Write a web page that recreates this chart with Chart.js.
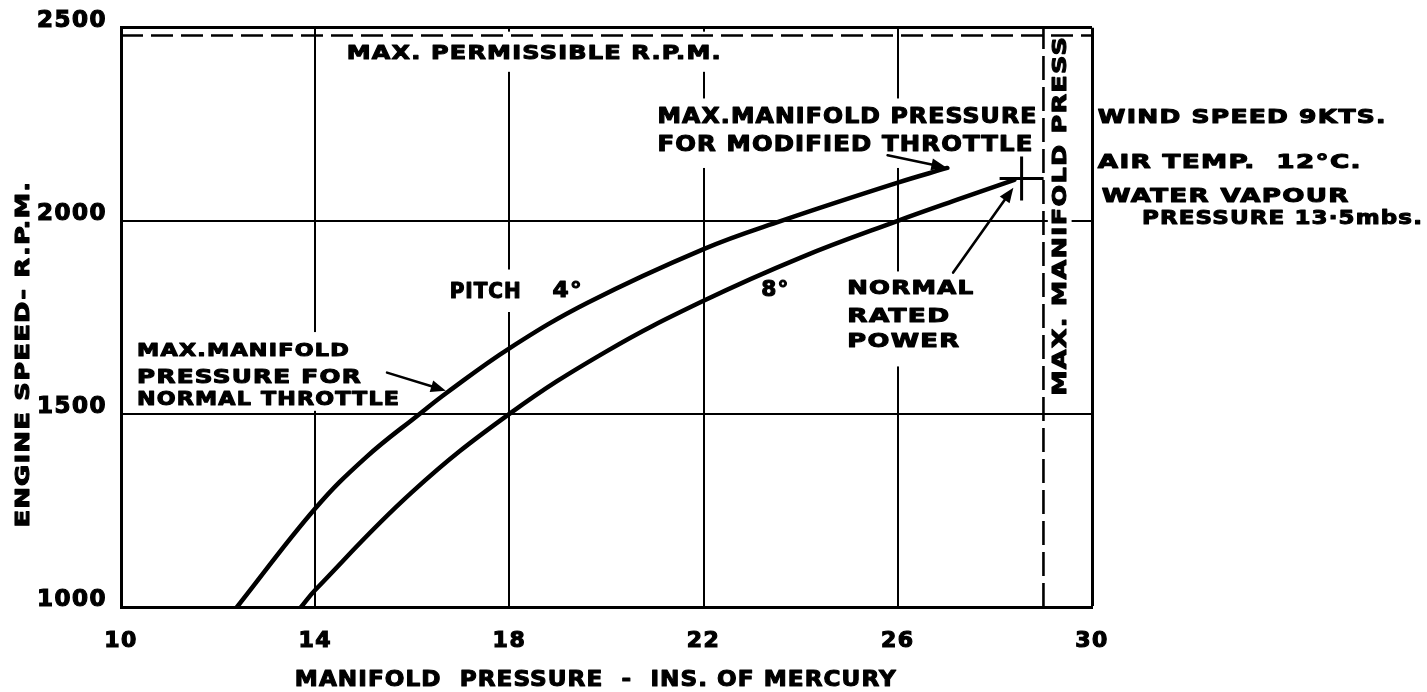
<!DOCTYPE html>
<html><head><meta charset="utf-8">
<script src="https://cdn.jsdelivr.net/npm/chart.js@4.4.1/dist/chart.umd.min.js"></script>
<style>html,body{margin:0;padding:0;background:#fff;}#wrap{width:1427px;height:692px;position:relative;}</style>
</head><body><div id="wrap"><canvas id="c"></canvas></div>
<script>
// ---- data ----
const xTicks = [10, 14, 18, 22, 26, 30];
const yTicks = [1000, 1500, 2000, 2500];
const pitch4Pressure = [12.39, 14, 15.04, 16.15, 16.71, 18, 19.61, 22, 23.6, 26, 27.02];
const pitch4Rpm      = [1000, 1255, 1387, 1500, 1555, 1670, 1788, 1927, 2000, 2099, 2137];
const pitch8Pressure = [13.71, 14, 16, 18, 20, 22, 24, 26, 27.3, 28.4];
const pitch8Rpm      = [1000, 1044, 1298, 1500, 1662, 1793, 1905, 2000, 2058, 2106];
const maxRpmPressure = [10, 30];
const maxRpm         = [2480, 2480];
const maxPressure    = [29, 29];
const maxPressureRpm = [1000, 2500];
const ratedPowerPressure = [28.55];
const ratedPowerRpm      = [2110];

// ---- layout / annotation definitions ----
const FONT = "'DejaVu Sans', 'Liberation Sans', sans-serif";
const INK = '#000';
const zip = (xs, ys) => xs.map((v, i) => ({x: v, y: ys[i]}));

// [text, x(left, data), y(centre, data), font size, target width px]
const notes = [
  ['MAX. PERMISSIBLE R.P.M.', 14.65, 2437, 20, 375],
  ['MAX.MANIFOLD PRESSURE', 21.05, 2272, 21, 380],
  ['FOR MODIFIED THROTTLE', 21.05, 2200, 21, 376],
  ['PITCH', 16.77, 1819, 21, 72],
  ['4°', 18.89, 1822, 21, 30],
  ['8°', 23.19, 1825, 21, 28],
  ['NORMAL', 24.96, 1830, 20, 127],
  ['RATED', 24.96, 1757, 20, 103],
  ['POWER', 24.96, 1691, 20, 113],
  ['MAX.MANIFOLD', 10.33, 1668, 18, 213],
  ['PRESSURE FOR', 10.33, 1599, 19, 225],
  ['NORMAL THROTTLE', 10.33, 1542, 19, 263],
  ['WIND SPEED 9KTS.', 30.12, 2272, 20, 289],
  ['AIR TEMP.  12°C.', 30.12, 2157, 20, 264],
  ['WATER VAPOUR', 30.2, 2069, 20, 248],
  ['PRESSURE 13·5mbs.', 31.03, 2010, 20, 281],
  ['MANIFOLD  PRESSURE  -  INS. OF MERCURY', 13.58, 817, 22, 602]
];
// rotated texts: [text, x centre, y centre, size, target length]
const vnotes = [
  ['MAX. MANIFOLD PRESS', 29.31, 2013, 20, 360],
  ['ENGINE SPEED- R.P.M.', 7.96, 1655, 20, 347]
];
// white boxes that break the grid behind labels: [x1, x2, y1, y2]
const boxes = [
  [14.48, 22.56, 2490, 2386],
  [20.91, 28.94, 2317, 2137],
  [16.67, 18.37, 1874, 1764],
  [24.85, 27.62, 1869, 1623],
  [10.18, 15.83, 1712, 1508],
  [29.09, 29.58, 2487, 1529]
];
// arrows: [x1, y1, x2, y2] (tip at x2,y2)
const arrows = [
  [15.48, 1607, 16.69, 1560],
  [25.79, 2170, 27.0, 2138],
  [27.14, 1866, 28.38, 2086]
];

function setLS(ctx, v) { try { ctx.letterSpacing = v + 'px'; } catch (e) {} }

// draw bold text stretched horizontally to a target width (hand lettering is wide)
function drawFitted(ctx, text, size, target, x, y, align) {
  ctx.font = 'bold ' + size + 'px ' + FONT;
  setLS(ctx, 1);
  const w = ctx.measureText(text).width;
  const sx = target / w;
  ctx.save();
  ctx.translate(x, y);
  ctx.scale(sx, 1);
  ctx.textAlign = align || 'left';
  ctx.lineWidth = 1.1;
  ctx.lineJoin = 'round';
  ctx.fillText(text, 0, 0);
  ctx.strokeText(text, 0, 0);
  ctx.restore();
}

function drawArrow(ctx, x1, y1, x2, y2) {
  const head = 15, hw = 6;
  const a = Math.atan2(y2 - y1, x2 - x1);
  ctx.beginPath();
  ctx.moveTo(x1, y1);
  ctx.lineTo(x2 - head * 0.6 * Math.cos(a), y2 - head * 0.6 * Math.sin(a));
  ctx.stroke();
  ctx.beginPath();
  ctx.moveTo(x2, y2);
  ctx.lineTo(x2 - head * Math.cos(a) + hw * Math.sin(a), y2 - head * Math.sin(a) - hw * Math.cos(a));
  ctx.lineTo(x2 - head * Math.cos(a) - hw * Math.sin(a), y2 - head * Math.sin(a) + hw * Math.cos(a));
  ctx.closePath();
  ctx.fill();
}

const annot = {
  id: 'annot',
  beforeDraw(chart) {
    const c = chart.ctx;
    c.save(); c.fillStyle = '#fff'; c.fillRect(0, 0, chart.width, chart.height); c.restore();
    setLS(c, 1.5);
  },
  beforeDatasetsDraw(chart) {
    const {ctx, scales: {x, y}} = chart;
    ctx.save();
    ctx.fillStyle = '#fff';
    boxes.forEach(b => {
      const x1 = x.getPixelForValue(b[0]), x2 = x.getPixelForValue(b[1]);
      const y1 = y.getPixelForValue(b[2]), y2 = y.getPixelForValue(b[3]);
      ctx.fillRect(Math.min(x1, x2), Math.min(y1, y2), Math.abs(x2 - x1), Math.abs(y2 - y1));
    });
    ctx.restore();
  },
  afterDatasetsDraw(chart) {
    const {ctx, scales: {x, y}} = chart;
    ctx.save();
    ctx.fillStyle = INK; ctx.strokeStyle = INK;
    ctx.textBaseline = 'alphabetic';
    notes.forEach(n => {
      const px = x.getPixelForValue(n[1]);
      const py = y.getPixelForValue(n[2]) + n[3] * 0.729 / 2;
      drawFitted(ctx, n[0], n[3], n[4], px, py, 'left');
    });
    vnotes.forEach(n => {
      const px = x.getPixelForValue(n[1]);
      const py = y.getPixelForValue(n[2]);
      ctx.save();
      ctx.translate(px + n[3] * 0.729 / 2, py);
      ctx.rotate(-Math.PI / 2);
      drawFitted(ctx, n[0], n[3], n[4], 0, 0, 'center');
      ctx.restore();
    });
    setLS(ctx, 0);
    ctx.lineWidth = 2.6; ctx.lineCap = 'round';
    arrows.forEach(a => drawArrow(ctx, x.getPixelForValue(a[0]), y.getPixelForValue(a[1]),
                                       x.getPixelForValue(a[2]), y.getPixelForValue(a[3])));
    ctx.restore();
    setLS(ctx, 1.5);
  }
};

new Chart(document.getElementById('c'), {
  type: 'scatter',
  data: {
    datasets: [
      {label: 'Pitch 4°', data: zip(pitch4Pressure, pitch4Rpm), showLine: true,
       borderColor: INK, borderWidth: 4.5, pointRadius: 0, tension: 0.4, borderCapStyle: 'round'},
      {label: 'Pitch 8°', data: zip(pitch8Pressure, pitch8Rpm), showLine: true,
       borderColor: INK, borderWidth: 4.5, pointRadius: 0, tension: 0.4, borderCapStyle: 'round'},
      {label: 'Max. permissible R.P.M.', data: zip(maxRpmPressure, maxRpm), showLine: true,
       borderColor: INK, borderWidth: 2.6, borderDash: [22, 8], pointRadius: 0},
      {label: 'Max. manifold press.', data: zip(maxPressure, maxPressureRpm), showLine: true,
       borderColor: INK, borderWidth: 2.6, borderDash: [24, 7], pointRadius: 0},
      {label: 'Normal rated power', data: zip(ratedPowerPressure, ratedPowerRpm), showLine: false,
       pointStyle: 'cross', pointRadius: 22, pointBorderWidth: 3, borderColor: INK, backgroundColor: INK}
    ]
  },
  options: {
    responsive: true, maintainAspectRatio: false, animation: false, devicePixelRatio: 1,
    layout: {padding: {left: 0, top: 25, right: 335, bottom: 0}},
    plugins: {legend: {display: false}, tooltip: {enabled: false}},
    scales: {
      x: {
        type: 'linear', min: 10, max: 30,
        afterBuildTicks: s => { s.ticks = xTicks.map(v => ({value: v})); },
        afterFit: s => { s.height = 85; },
        grid: {color: INK, lineWidth: c => (c.tick && c.tick.value === 30) ? 3 : 2, drawTicks: false},
        border: {display: true, color: INK, width: 3},
        ticks: {color: INK, font: {family: FONT, weight: 'bold', size: 22}, padding: 21, maxRotation: 0,
                autoSkip: false, textStrokeColor: INK, textStrokeWidth: 1.2, callback: v => String(v)}
      },
      y: {
        type: 'linear', min: 1000, max: 2500,
        afterBuildTicks: s => { s.ticks = yTicks.map(v => ({value: v})); },
        afterFit: s => { s.width = 121; },
        grid: {color: INK, lineWidth: c => (c.tick && c.tick.value === 2500) ? 3 : 2, drawTicks: false},
        border: {display: true, color: INK, width: 3},
        ticks: {color: INK, font: {family: FONT, weight: 'bold', size: 23}, padding: 14, labelOffset: -7,
                autoSkip: false, textStrokeColor: INK, textStrokeWidth: 1.2, callback: v => String(v)}
      }
    }
  },
  plugins: [annot]
});
</script>
</body></html>
